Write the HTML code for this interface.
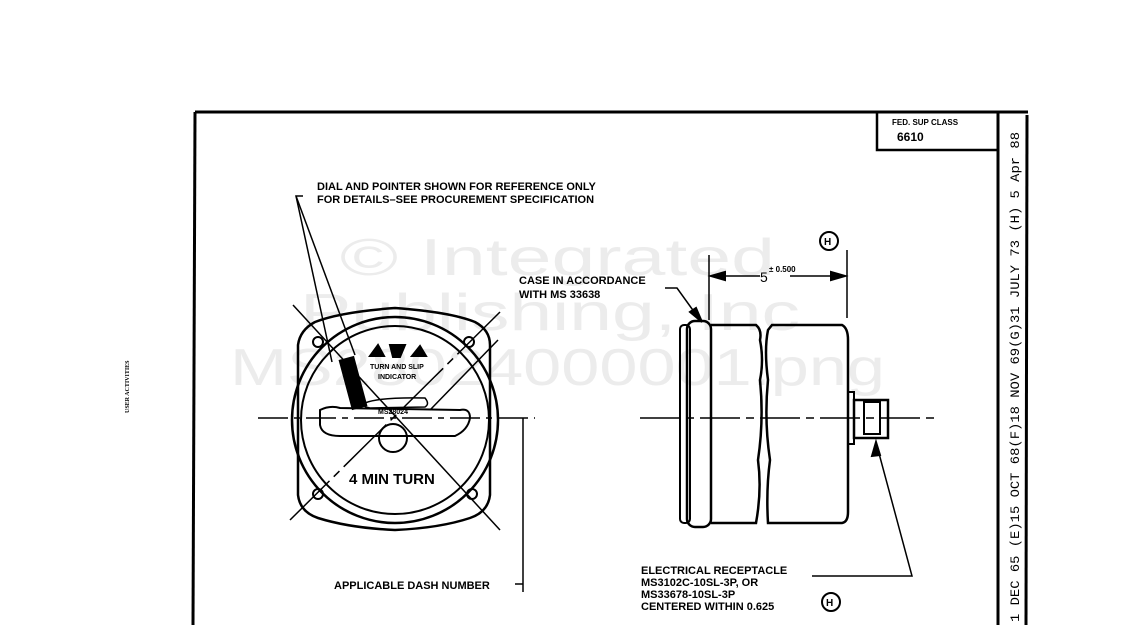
<!DOCTYPE html>
<html><head><style>
body{margin:0;background:#fff;}
svg{display:block;font-family:"Liberation Sans",sans-serif;font-weight:bold;}
</style></head><body>
<svg width="1121" height="625" viewBox="0 0 1121 625" xmlns="http://www.w3.org/2000/svg">
<g fill="#ececec" font-size="52" font-weight="normal">
<text x="340" y="275" textLength="435" lengthAdjust="spacingAndGlyphs">© Integrated</text>
<text x="300" y="330" textLength="500" lengthAdjust="spacingAndGlyphs">Publishing, Inc</text>
<text x="230" y="385" textLength="655" lengthAdjust="spacingAndGlyphs">MS28024000001.png</text>
</g>
<g stroke="#000" fill="none" stroke-width="2">
<line x1="195" y1="112" x2="1028" y2="112" stroke-width="3"/>
<line x1="195" y1="112" x2="193" y2="625" stroke-width="3"/>
<line x1="998" y1="112" x2="998" y2="625" stroke-width="3"/>
<line x1="1027" y1="115" x2="1026" y2="625" stroke-width="3"/>
<polyline points="877,112 877,150 998,150" stroke-width="2.5"/>
<path d="M315,322 Q340,312 395,308 Q450,312 475,322 Q490,330 490,345 L490,495 Q488,512 470,518 Q440,528 395,530 Q350,528 318,518 Q300,512 298,495 L298,345 Q300,330 315,322 Z" stroke-width="2.5"/>
<circle cx="395" cy="420" r="103" stroke-width="2.5"/>
<circle cx="395" cy="420" r="94" stroke-width="2"/>
<circle cx="318" cy="342" r="5"/><circle cx="469" cy="342" r="5"/>
<circle cx="318" cy="494" r="5"/><circle cx="472" cy="494" r="5"/>
<path d="M320,410 Q330,405 340,408 L460,410 Q470,408 470,418 Q468,430 455,436 L340,436 Q322,436 320,425 Z"/>
<circle cx="393" cy="438" r="14"/>
<path d="M365,403 Q380,397 425,398 Q430,404 425,407 L370,408 Q360,406 365,403 Z" stroke-width="1.5"/>
<rect x="346" y="358" width="14" height="50" fill="#000" transform="rotate(-15 353 383)"/>
<path d="M370,356 L378,345 L384,356 Z M390,345 L405,345 L400,357 L393,357 Z M412,356 L420,346 L426,356 Z" fill="#000"/>
<line x1="258" y1="418" x2="535" y2="418" stroke-width="1.5" stroke-dasharray="30,6,6,6"/>
<line x1="293" y1="305" x2="500" y2="530" stroke-width="1.5"/>
<line x1="500" y1="312" x2="290" y2="520" stroke-width="1.5" stroke-dasharray="60,6,8,6"/>
<line x1="523" y1="418" x2="523" y2="592" stroke-width="1.5"/>
<line x1="515" y1="584" x2="523" y2="584" stroke-width="1.5"/>
<polyline points="303,196 296,196 332,362" stroke-width="1.5"/>
<line x1="296" y1="196" x2="355" y2="355" stroke-width="1.5"/>
<line x1="498" y1="340" x2="430" y2="410" stroke-width="1.5"/>
<rect x="680" y="325" width="10" height="198" rx="4"/>
<rect x="687" y="321" width="24" height="206" rx="8" stroke-width="2.5"/>
<path d="M711,325 L756,325 Q762,330 760,340 Q764,360 760,380 Q764,420 758,460 Q762,490 756,523 L711,523" stroke-width="2.5"/>
<path d="M772,325 L842,325 Q848,328 848,340 L848,512 Q848,522 842,523 L768,523 Q766,490 770,460 Q764,420 768,380 Q764,350 768,330 Z" stroke-width="2.5"/>
<rect x="848" y="392" width="6" height="52"/>
<rect x="854" y="400" width="34" height="38" stroke-width="2.5"/>
<rect x="864" y="402" width="16" height="32"/>
<line x1="640" y1="418" x2="935" y2="418" stroke-width="1.5" stroke-dasharray="40,6,8,6"/>
<line x1="709" y1="255" x2="709" y2="320" stroke-width="1.5"/>
<line x1="847" y1="250" x2="847" y2="318" stroke-width="1.5"/>
<line x1="711" y1="276" x2="760" y2="276" stroke-width="1.5"/>
<line x1="790" y1="276" x2="845" y2="276" stroke-width="1.5"/>
<path d="M711,276 L725,272 L725,280 Z M845,276 L831,272 L831,280 Z" fill="#000"/>
<polyline points="665,288 677,288 700,320" stroke-width="1.5"/>
<path d="M702,322 L690,312 L696,308 Z" fill="#000"/>
<polyline points="812,576 912,576 877,446" stroke-width="1.5"/>
<path d="M876,442 L872,456 L880,455 Z" fill="#000"/>
<circle cx="829" cy="241" r="9"/>
<circle cx="831" cy="602" r="9"/>
</g>
<g fill="#000" font-size="11">
<text x="317" y="190">DIAL AND POINTER SHOWN FOR REFERENCE ONLY</text>
<text x="317" y="203">FOR DETAILS–SEE PROCUREMENT SPECIFICATION</text>
<text x="519" y="284">CASE IN ACCORDANCE</text>
<text x="519" y="298">WITH MS 33638</text>
<text x="334" y="589">APPLICABLE DASH NUMBER</text>
<text x="641" y="574">ELECTRICAL RECEPTACLE</text>
<text x="641" y="586">MS3102C-10SL-3P, OR</text>
<text x="641" y="598">MS33678-10SL-3P</text>
<text x="641" y="610">CENTERED WITHIN 0.625</text>
<text x="892" y="125" font-size="8">FED. SUP CLASS</text>
<text x="897" y="141" font-size="12">6610</text>
<text x="349" y="484" font-size="15">4 MIN TURN</text>
<text x="370" y="369" font-size="7">TURN AND SLIP</text>
<text x="378" y="379" font-size="7">INDICATOR</text>
<text x="378" y="414" font-size="7">MS28024</text>
<text x="760" y="282" font-size="14" font-weight="normal">5</text>
<text x="769" y="272" font-size="8">± 0.500</text>
<text x="824" y="245" font-size="10">H</text>
<text x="826" y="606" font-size="10">H</text>
<text transform="translate(1019,622) rotate(-90)" font-size="13" font-weight="normal" font-family="Liberation Mono" textLength="490" lengthAdjust="spacingAndGlyphs">1 DEC 65 (E)15 OCT 68(F)18 NOV 69(G)31 JULY 73 (H) 5 Apr 88</text>
<text transform="translate(129,413) rotate(-90)" font-size="6" font-family="Liberation Serif">USER ACTIVITIES</text>
</g>
</svg>
</body></html>
